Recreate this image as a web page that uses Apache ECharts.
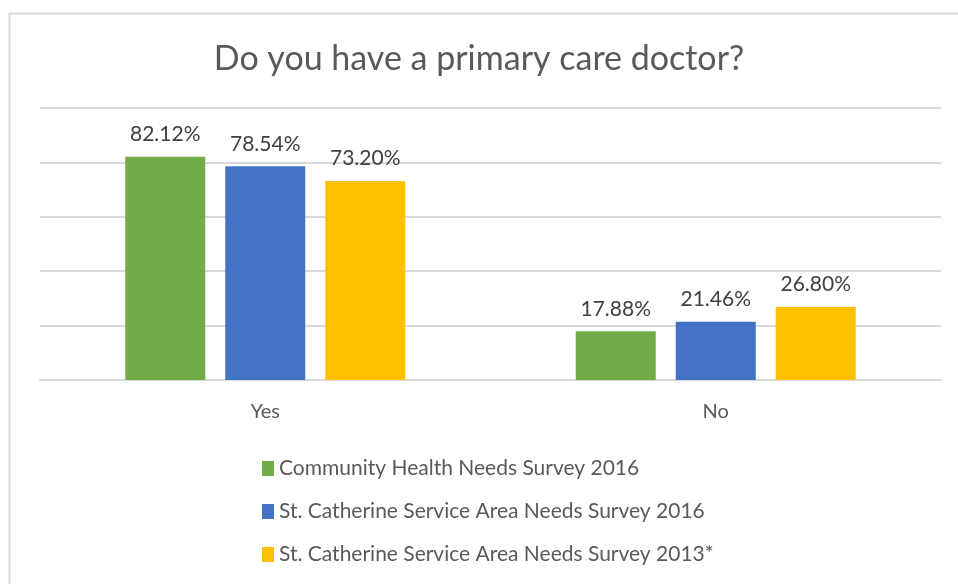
<!DOCTYPE html>
<html>
<head>
<meta charset="utf-8">
<script src="https://cdn.jsdelivr.net/npm/echarts@6/dist/echarts.min.js"></script>
<style>
  html, body { margin: 0; padding: 0; background: #fff; }
  #chart { width: 958px; height: 584px; }
</style>
</head>
<body>
<div id="chart"></div>
<script>
// Survey answers to "Do you have a primary care doctor?"
const categories = ['Yes', 'No'];
const seriesNames = [
  'Community Health Needs Survey 2016',
  'St. Catherine Service Area Needs Survey 2016',
  'St. Catherine Service Area Needs Survey 2013*'
];
const chnSurvey2016 = [82.12, 17.88];
const stCatherine2016 = [78.54, 21.46];
const stCatherine2013 = [73.20, 26.80];
const seriesColors = ['#70AD47', '#4472C4', '#FFC000'];

const FONT = 'Lato';
const values = [chnSurvey2016, stCatherine2016, stCatherine2013];

const chart = echarts.init(document.getElementById('chart'), null, { renderer: 'canvas' });

chart.setOption({
  animation: false,
  backgroundColor: '#ffffff',
  graphic: [{
    type: 'rect',
    shape: { x: 9.5, y: 13.5, width: 960, height: 600 },
    style: { fill: 'none', stroke: '#d9d9d9', lineWidth: 2 },
    silent: true
  }],
  title: {
    text: 'Do you have a primary care doctor?',
    left: 'center',
    top: 37,
    textStyle: { fontFamily: FONT, fontSize: 34, fontWeight: 'normal', color: '#595959' }
  },
  legend: {
    orient: 'vertical',
    left: 257,
    top: 453,
    itemGap: 22,
    itemWidth: 12,
    itemHeight: 15,
    icon: 'rect',
    textStyle: { fontFamily: FONT, fontSize: 21, color: '#595959' },
    data: seriesNames
  },
  grid: { left: 40, right: 17, top: 108, bottom: 204, containLabel: false },
  xAxis: {
    type: 'category',
    data: categories,
    axisTick: { show: false },
    axisLine: { lineStyle: { color: '#d9d9d9', width: 2 } },
    axisLabel: { fontFamily: FONT, fontSize: 20, color: '#595959', margin: 22 }
  },
  yAxis: {
    type: 'value',
    min: 0,
    max: 100,
    interval: 20,
    axisLabel: { show: false },
    axisLine: { show: false },
    axisTick: { show: false },
    splitLine: { lineStyle: { color: '#d9d9d9', width: 2 } }
  },
  series: seriesNames.map((name, i) => ({
    name,
    type: 'bar',
    data: values[i],
    barWidth: 80,
    barGap: '25%',
    itemStyle: { color: seriesColors[i] },
    label: {
      show: true,
      position: 'top',
      distance: 12,
      fontFamily: FONT,
      fontSize: 21,
      color: '#404040',
      formatter: p => p.value.toFixed(2) + '%'
    }
  }))
});
</script>
</body>
</html>
